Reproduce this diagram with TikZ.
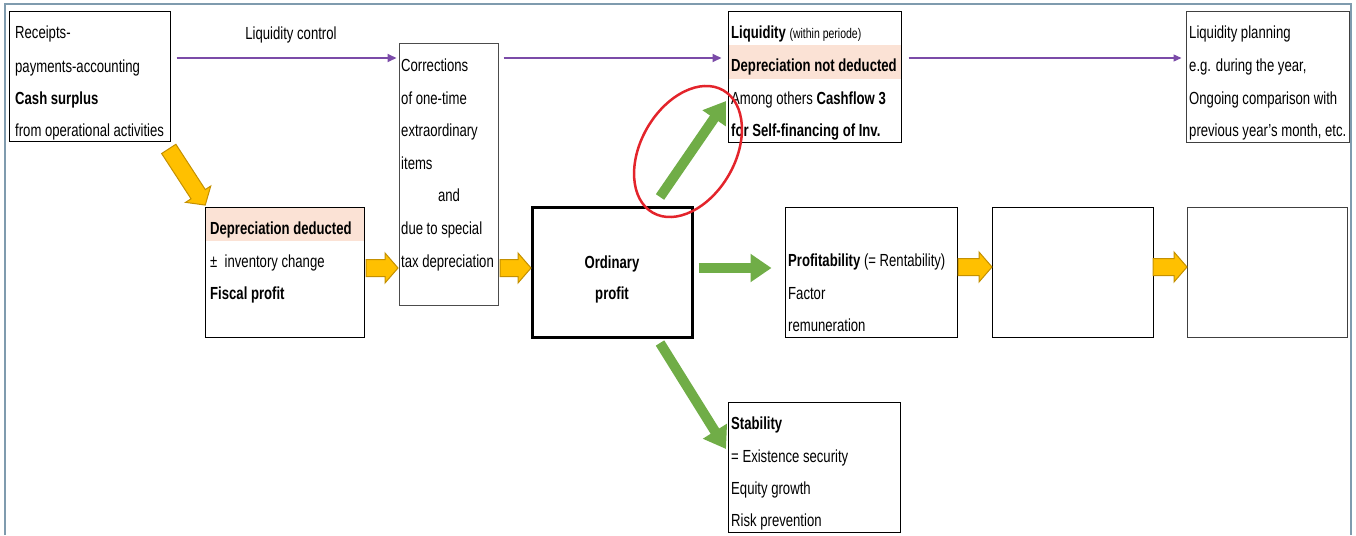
\documentclass[tikz,border=0pt]{standalone}
\usepackage{fontspec}
\setmainfont{Liberation Sans}[FakeStretch=0.75]
\usetikzlibrary{arrows.meta,calc}
\definecolor{purp}{HTML}{7B4BA8}
\definecolor{ggreen}{HTML}{70AD47}
\definecolor{ygold}{HTML}{FFC000}
\definecolor{ydark}{HTML}{C49000}
\definecolor{peach}{HTML}{FBE2D5}
\definecolor{framec}{HTML}{7F9BAE}
\definecolor{ringred}{HTML}{E3242B}
\begin{document}
\begin{tikzpicture}[x=1pt,y=-1pt,
  box/.style={draw=black, line width=1pt, inner sep=0pt},
  txt/.style={anchor=base west, inner sep=0pt, font=\fontsize{17.5}{20}\selectfont},
  ctxt/.style={txt, anchor=base},
  parrow/.style={draw=purp, line width=2pt, -{Triangle[length=9pt,width=8pt]}},
  garrow/.style={draw=ggreen, line width=10pt, -{Triangle[length=21pt,width=27pt]}},
  ring/.style={draw=ringred, line width=2.5pt},
  pics/yarr/.style={code={
    \pgfmathsetmacro\hl{#1/2}\pgfmathsetmacro\hb{#1/2-13}
    \draw[draw=ydark, fill=ygold, line width=1pt, line join=miter]
      (-\hl,-8.5) -- (\hb,-8.5) -- (\hb,-15) -- (\hl,0) -- (\hb,15) -- (\hb,8.5) -- (-\hl,8.5) -- cycle;}}
]
\useasboundingbox (0,0) rectangle (1356,535);
\draw[framec, line width=2pt] (5,535) -- (5,4) -- (1351,4) -- (1351,535);

% highlights
\fill[peach] (728,45) rectangle (901,79);
\fill[peach] (205,207) rectangle (364,241);

% boxes
\node[box, minimum width=161pt, minimum height=129pt] (rec) at (89.5,76.5) {};
\node[box, draw=black!70, minimum width=99pt, minimum height=261pt] (corr) at (448.5,174.5) {};
\node[box, minimum width=173pt, minimum height=130pt] (liq) at (814.5,77) {};
\node[box, draw=black!75, minimum width=163pt, minimum height=130pt] (plan) at (1267.5,77) {};
\node[box, minimum width=159pt, minimum height=130pt] (dep) at (284.5,272) {};
\node[box, line width=3pt, minimum width=160pt, minimum height=130pt] (ord) at (612,272) {};
\node[box, minimum width=172pt, minimum height=130pt] (prof) at (871,272) {};
\node[box, minimum width=161pt, minimum height=130pt] (b5) at (1072.5,272) {};
\node[box, draw=black!75, minimum width=160pt, minimum height=130pt] (b6) at (1267,272) {};
\node[box, minimum width=172pt, minimum height=130pt] (stab) at (814,467) {};

% texts
\node[txt] (rec1) at (15,39) {Receipts-};
\node[txt] (rec2) at (15,72) {payments-accounting};
\node[txt] (rec3) at (15,104) {\textbf{Cash surplus}};
\node[txt] (rec4) at (15,136) {from operational activities};

\node[ctxt] (lc) at (291,40) {Liquidity control};

\node[txt] (corr1) at (401,71) {Corrections};
\node[txt] (corr2) at (401,104) {of one-time};
\node[txt] (corr3) at (401,136) {extraordinary};
\node[txt] (corr4) at (401,169) {items};
\node[ctxt] (corr5) at (449,201) {and};
\node[txt] (corr6) at (401,234) {due to special};
\node[txt] (corr7) at (401,267) {tax depreciation};

\node[txt] (liq1) at (731,39) {\textbf{Liquidity} {\fontsize{14}{16}\selectfont (within periode)}};
\node[txt] (liq2) at (731,71) {\textbf{Depreciation not deducted}};
\node[txt] (liq3) at (731,104) {Among others \textbf{Cashflow 3}};
\node[txt] (liq4) at (731,136) {\textbf{for Self-financing of Inv.}};

\node[txt] (plan1) at (1189,39) {Liquidity planning};
\node[txt] (plan2) at (1189,71) {e.g. during the year,};
\node[txt] (plan3) at (1189,104) {Ongoing comparison with};
\node[txt] (plan4) at (1189,136) {previous year's month, etc.};

\node[txt] (dep1) at (210,234) {\textbf{Depreciation deducted}};
\node[txt] (dep2) at (210,267) {±\ \ inventory change};
\node[txt] (dep3) at (210,299) {\textbf{Fiscal profit}};

\node[ctxt] (ord1) at (612,268) {\textbf{Ordinary}};
\node[ctxt] (ord2) at (612,299) {\textbf{profit}};

\node[txt] (prof1) at (788,266) {\textbf{Profitability} (= Rentability)};
\node[txt] (prof2) at (788,299) {Factor};
\node[txt] (prof3) at (788,331) {remuneration};

\node[txt] (stab1) at (731,429) {\textbf{Stability}};
\node[txt] (stab2) at (731,462) {= Existence security};
\node[txt] (stab3) at (731,494) {Equity growth};
\node[txt] (stab4) at (731,526) {Risk prevention};

% purple arrows
\coordinate (py) at (0,58);
\draw[parrow] ($(rec.east |- py)+(6,0)$) -- ($(corr.west |- py)+(-2,0)$);
\draw[parrow] ($(corr.east |- py)+(5,0)$) -- ($(liq.west |- py)+(-6,0)$);
\draw[parrow, line width=1.2pt, -{Triangle[length=8pt,width=7pt]}] ($(liq.east |- py)+(7,0)$) -- ($(plan.west |- py)+(-4,0)$);

% yellow block arrows
\pic[rotate=-57] (yd) at (187,177) {yarr=67};
\pic (ya1) at (382,268) {yarr=32};
\pic (ya2) at (515.5,268) {yarr=31};
\pic (ya3) at (975,267) {yarr=34};
\pic (ya4) at (1170,267) {yarr=34};

% green arrows
\draw[garrow] ($(ord.east)+(5,-4)$) -- ($(prof.west)+(-13,-4)$);
\coordinate (gu0) at (660,197);
\coordinate (gu1) at (726,101);
\draw[garrow] (gu0) -- (gu1);
\coordinate (gd0) at (660,343);
\coordinate (gd1) at (726,449);
\draw[garrow] (gd0) -- (gd1);

% red ring
\draw[ring] (688,151.5) ellipse [x radius=70.6, y radius=47.1, rotate=60];
\end{tikzpicture}
\end{document}
